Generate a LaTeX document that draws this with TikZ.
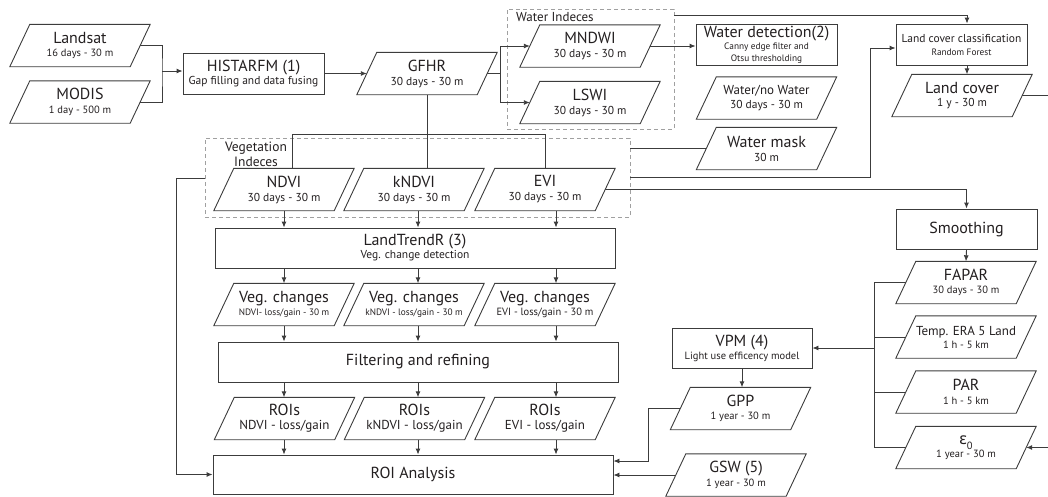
\documentclass[tikz,border=0pt]{standalone}
\usepackage{fontspec}
\setmainfont{PT Sans}
\newfontfamily\grk{Noto Sans}
\usetikzlibrary{arrows.meta,calc}
\definecolor{ln}{HTML}{3C3C3C}
\definecolor{dsh}{HTML}{A0A0A0}
\definecolor{tx}{HTML}{231F20}
\newcommand\tbig[1]{{\fontsize{16}{17}\selectfont #1}}
\newcommand\tmid[1]{{\fontsize{13}{15}\selectfont #1}}
\newcommand\tsub[1]{{\fontsize{11.5}{13}\selectfont #1}}
\newcommand\tsm[1]{{\fontsize{10.5}{12}\selectfont #1}}
\newcommand\txs[1]{{\fontsize{9.3}{11}\selectfont #1}}
\newcommand\pgram[4][]{%
  \node[paranode,#1] (#2) at (#3) {#4};
  \draw[boxline] ([xshift=-10pt]#2.south west) -- ([xshift=-10pt]#2.south east) -- ([xshift=10pt]#2.north east) -- ([xshift=10pt]#2.north west) -- cycle;}
\tikzset{
  boxline/.style={draw=ln, line width=0.9pt},
  paranode/.style={minimum width=120pt, minimum height=42pt, inner sep=0pt, align=center, text=tx},
  proc/.style={boxline, rectangle, inner sep=0pt, align=center, text=tx},
  dbox/.style={draw=dsh, dash pattern=on 4pt off 3pt, line width=0.8pt, inner sep=0pt},
  conn/.style={draw=ln, line width=0.9pt},
  arr/.style={conn, -{Latex[length=6pt,width=5pt]}},
}
\begin{document}
\begin{tikzpicture}[x=1pt,y=-1pt]
\useasboundingbox (0,0) rectangle (1048,496);
% dashed groups
\node[dbox, minimum width=167pt, minimum height=120pt] (wbox) at (590.5,69) {};
\node[anchor=base west, inner sep=0pt, text=tx] (wlab) at (516,21) {\tmid{Water Indeces}};
\node[dbox, minimum width=425pt, minimum height=79pt] (vbox) at (417.5,177.5) {};
\node[align=center, inner sep=0pt, text=tx] (vlab) at (256,154) {{\fontsize{13.5}{17}\selectfont Vegetation}\\[2pt]{\fontsize{13.5}{17}\selectfont Indeces}};
% inputs
\pgram{landsat}{80,45.5}{\tbig{Landsat}\\[1.5pt]\tsm{16 days - 30 m}}
\pgram{modis}{80,102}{\tbig{MODIS}\\[1.5pt]\tsm{1 day - 500 m}}
\node[proc, minimum width=141pt, minimum height=41pt] (hist) at (253.5,73.5) {\tbig{HISTARFM (1)}\\[1pt]\tsub{Gap filling and data fusing}};
\pgram{gfhr}{427,73.5}{\tbig{GFHR}\\[2pt]\tsub{30 days - 30 m}}
\pgram{mndwi}{590,46}{\tbig{MNDWI}\\[2pt]\tsub{30 days - 30 m}}
\pgram{lswi}{590,102.5}{\tbig{LSWI}\\[2pt]\tsub{30 days - 30 m}}
\node[proc, minimum width=141pt, minimum height=41pt] (wdet) at (766.5,44.5) {\tbig{Water detection(2)}\\\txs{Canny edge filter and}\\\txs{Otsu thresholding}};
\pgram{wnw}{766.5,98}{\tmid{Water/no Water}\\[2pt]\tsub{30 days - 30 m}}
\pgram{wmask}{766.5,148.5}{\tbig{Water mask}\\[2pt]\tsub{30 m}}
\node[proc, minimum width=131pt, minimum height=41pt] (lcc) at (961.5,44.5) {{\fontsize{11.5}{13}\selectfont Land cover classification}\\[1pt]\txs{Random Forest}};
\pgram{lc}{962,95.5}{\tbig{Land cover}\\[1.5pt]\tsub{1 y - 30 m}}
% vegetation indices
\pgram{ndvi}{284,189.5}{\tbig{NDVI}\\[2pt]\tsub{30 days - 30 m}}
\pgram{kndvi}{414,189.5}{\tbig{kNDVI}\\[2pt]\tsub{30 days - 30 m}}
\pgram{evi}{545,189.5}{\tbig{EVI}\\[2pt]\tsub{30 days - 30 m}}
\node[proc, minimum width=400pt, minimum height=40pt] (ltr) at (415,248) {\tbig{LandTrendR (3)}\\[1pt]\tsub{Veg. change detection}};
\pgram{vc1}{284,304.5}{\tbig{Veg. changes}\\[1pt]\txs{NDVI- loss/gain - 30 m}}
\pgram{vc2}{414,304.5}{\tbig{Veg. changes}\\[1pt]\txs{kNDVI - loss/gain - 30 m}}
\pgram{vc3}{545,304.5}{\tbig{Veg. changes}\\[1pt]\tsm{EVI - loss/gain - 30 m}}
\node[proc, minimum width=400pt, minimum height=40pt] (filt) at (418,362) {\tbig{Filtering and refining}};
\pgram{roi1}{284.5,418.5}{\tbig{ROIs}\\[2pt]\tmid{NDVI - loss/gain}}
\pgram{roi2}{414.5,418.5}{\tbig{ROIs}\\[2pt]\tmid{kNDVI - loss/gain}}
\pgram{roi3}{545,418.5}{\tbig{ROIs}\\[2pt]\tmid{EVI - loss/gain}}
\node[proc, minimum width=400pt, minimum height=39pt] (roia) at (413,474.5) {\tbig{ROI Analysis}};
% right side
\node[proc, minimum width=141pt, minimum height=40pt] (smooth) at (966.5,229) {\tbig{Smoothing}};
\pgram{fapar}{966,282.5}{\tbig{FAPAR}\\[1.5pt]\tsm{30 days - 30 m}}
\pgram{temp}{966,337}{\tmid{Temp. ERA 5 Land}\\[1pt]\tsm{1 h - 5 km}}
\pgram{par}{966,392}{\tbig{PAR}\\[1.5pt]\tsm{1 h - 5 km}}
\pgram{eps}{966,447.5}{{\grk\fontsize{16}{15}\selectfont ε}\raisebox{-5pt}{\tsm{0}}\\\tsm{1 year - 30 m}}
\node[proc, minimum width=140pt, minimum height=40pt] (vpm) at (742,348) {\tbig{VPM (4)}\\[1pt]\tsm{Light use efficency model}};
\pgram{gpp}{740.5,408.5}{\tbig{GPP}\\[1.5pt]\tsm{1 year - 30 m}}
\pgram{gsw}{736,475}{\tbig{GSW (5)}\\[1.5pt]\tsm{1 year - 30 m}}
% helper coordinates
\coordinate (j1) at (162,71);
\coordinate (cx967) at (967,0);
\coordinate (w1) at (674,15);
\coordinate (lcout) at (1048,95.5);
\coordinate (v1) at (630,148);
\coordinate (v2) at (630,177);
\coordinate (j3) at (870,48);
\coordinate (v3) at (205,178);
\coordinate (j4) at (176,178);
\coordinate (hbar) at (0,134);
\coordinate (x292) at (292,0);
\coordinate (c1) at (284,0);
\coordinate (c2) at (418,0);
\coordinate (c3) at (556,0);
\coordinate (bus) at (874,0);
\coordinate (epsin) at (1048,447.5);
\coordinate (j5) at (648,461);
% connectors
\draw[conn] (landsat.east) -| (j1) |- (modis.east);
\draw[arr] (j1) -- (j1 -| hist.west);
\draw[arr] (hist.east) -- (gfhr.west);
\draw[arr] (gfhr.east) -- ++(13,0) |- (mndwi.west);
\draw[arr] (gfhr.east) ++(13,0) |- (lswi.west);
\draw[arr] (mndwi.east) -- (mndwi.east -| wdet.west);
\draw[arr] (w1) -| (lcc.north -| cx967);
\draw[arr] (lcc.south -| cx967) -- (lc.north -| cx967);
\draw[conn] (lc.east) -- (lcout);
\draw[conn] (v1) -- (v1 -| wmask.west);
\draw[arr] (v2) -| (j3) -- (j3 -| lcc.west);
\draw[arr] (evi.east) -| (smooth.north);
\draw[arr] (v3) -- (j4) |- (roia.west);
\draw[conn] (gfhr.south) -- (gfhr.south |- kndvi.north);
\draw[conn] (gfhr.south |- hbar) -| (ndvi.north -| x292);
\draw[conn] (gfhr.south |- hbar) -| (evi.north);
\foreach \c in {c1,c2,c3}{
  \draw[arr] (ndvi.south -| \c) -- (ltr.north -| \c);
  \draw[arr] (ltr.south -| \c) -- (vc1.north -| \c);
  \draw[arr] (vc1.south -| \c) -- (filt.north -| \c);
  \draw[arr] (filt.south -| \c) -- (roi1.north -| \c);
  \draw[arr] (roi1.south -| \c) -- (roia.north -| \c);
}
\draw[arr] (smooth.south) -- (fapar.north);
\draw[conn] (fapar.west) -| (bus |- eps.west) -- (eps.west);
\draw[conn] (temp.west) -- (temp.west -| bus);
\draw[conn] (par.west) -- (par.west -| bus);
\draw[arr] (bus |- vpm.east) -- (vpm.east);
\draw[arr] (epsin) -- (eps.east);
\draw[arr] (vpm.south) -- (vpm.south |- gpp.north);
\draw[arr] (gpp.west) -| (j5) -- (j5 -| roia.east);
\draw[arr] (gsw.west) -- (gsw.west -| roia.east);
\end{tikzpicture}
\end{document}
